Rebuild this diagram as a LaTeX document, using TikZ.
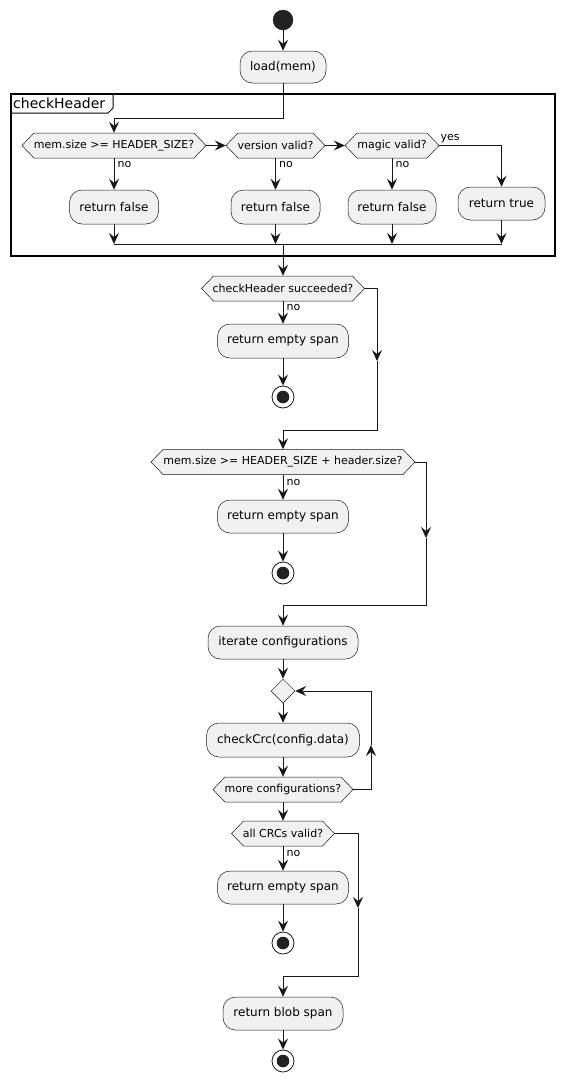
\documentclass[tikz,border=0pt]{standalone}
\usepackage{fontspec}
\setmainfont{DejaVu Sans}
\usetikzlibrary{arrows.meta,shapes.geometric}
\definecolor{ln}{HTML}{181818}
\definecolor{bx}{HTML}{F1F1F1}
\definecolor{dk}{HTML}{222222}
\tikzset{
 act/.style={draw=ln, line width=0.5pt, fill=bx, rounded corners=12.5pt, inner sep=0pt, font=\fontsize{12}{14}\selectfont, text=black},
 hexlbl/.style={inner sep=0pt, font=\fontsize{11}{13}\selectfont, minimum height=25pt},
 hexshape/.style={draw=ln, line width=0.5pt, fill=bx},
 flow/.style={draw=ln, line width=1pt, -{Stealth[length=11pt,width=10pt,inset=4pt]}},
 plain/.style={draw=ln, line width=1pt},
 lbl/.style={font=\fontsize{11}{13}\selectfont, inner sep=0pt, anchor=west},
 startdot/.style={circle, fill=dk, draw=dk, minimum size=20pt, inner sep=0pt},
 stopring/.style={circle, draw=ln, line width=0.8pt, fill=white, minimum size=22pt, inner sep=0pt, path picture={\fill[dk] (path picture bounding box.center) circle (6.3pt);}},
 loopdia/.style={diamond, draw=ln, line width=0.5pt, fill=bx, minimum width=24pt, minimum height=24pt, inner sep=0pt},
}
\newcommand\hexat[5]{%
 \path[hexshape] ({#2-#4},#3) -- ({#2-#4+12},{#3-12.5}) -- ({#2+#4-12},{#3-12.5}) -- ({#2+#4},#3) -- ({#2+#4-12},{#3+12.5}) -- ({#2-#4+12},{#3+12.5}) -- cycle;
 \node[hexlbl, minimum width={2*#4}] (#1) at (#2,#3) {#5};
}
\begin{document}
\begin{tikzpicture}[x=1pt,y=-1pt]
\useasboundingbox (0,0) rectangle (564,1082);
\fill[white] (0,0) rectangle (564,1082);

% frame
\node[draw=black, line width=1.5pt, minimum width=544pt, minimum height=162pt, inner sep=0pt] (frame) at (283,175) {};
\draw[line width=1pt, black] (11,113) -- (108,113) -- (113,108) -- (113,94);
\node[anchor=west, font=\fontsize{14}{16}\selectfont, inner sep=0pt] (ftitle) at (13,103.5) {checkHeader};

% top
\node[startdot] (start) at (283,20) {};
\node[act, minimum width=86pt, minimum height=32pt] (load) at (283,67) {load(mem)};

% checkHeader content
\hexat{d1}{114}{145.5}{92}{mem.size >= HEADER\_SIZE?}
\hexat{d2}{275.5}{145.5}{49.5}{version valid?}
\hexat{d3}{392}{145.5}{47}{magic valid?}
\node[act, minimum width=89pt, minimum height=34pt] (rf1) at (114,207) {return false};
\node[act, minimum width=89pt, minimum height=34pt] (rf2) at (275.5,207) {return false};
\node[act, minimum width=88pt, minimum height=34pt] (rf3) at (392,207) {return false};
\node[act, minimum width=87pt, minimum height=33pt] (rt) at (501.5,203.5) {return true};
\node[lbl] (no1) at (117.5,164) {no};
\node[lbl] (no2) at (279,164) {no};
\node[lbl] (no3) at (395.5,164) {no};
\node[lbl] (yes3) at (440.5,139) {yes};

\coordinate (c1) at (283,118);
\coordinate (c2) at (114,118);
\coordinate (c3) at (501.5,145.5);
\coordinate (m1) at (114,244);
\coordinate (m2) at (275.5,244);
\coordinate (m3) at (392,244);
\coordinate (m4) at (501.5,244);
\coordinate (mx) at (283,244);

\draw[flow] (start) -- (load);
\draw[flow] (load.south) -- (c1) -- (c2) -- (d1.north);
\draw[flow] (d1.east) -- (d2.west);
\draw[flow] (d2.east) -- (d3.west);
\draw[flow] (d3.east) -- (c3) -- (rt.north);
\draw[flow] (d1.south) -- (rf1.north);
\draw[flow] (d2.south) -- (rf2.north);
\draw[flow] (d3.south) -- (rf3.north);
\draw[flow] (rf1.south) -- (m1);
\draw[flow] (rf2.south) -- (m2);
\draw[flow] (rf3.south) -- (m3);
\draw[flow] (rt.south) -- (m4);
\draw[plain] (m1) -- (m4);

% checkHeader succeeded?
\hexat{chk}{283}{288.5}{81.5}{checkHeader succeeded?}
\draw[flow] (mx) -- (chk.north);
\node[lbl] (no4) at (286.5,307) {no};
\node[act, minimum width=131pt, minimum height=34pt] (res1) at (283,341) {return empty span};
\node[stopring] (stop1) at (283,397) {};
\draw[flow] (chk.south) -- (res1.north);
\draw[flow] (res1.south) -- (stop1.north);
\coordinate (b1a) at (377,288.5);
\coordinate (b1m) at (377,361);
\coordinate (b1b) at (377,430);
\coordinate (b1c) at (283,430);
\draw[flow] (chk.east) -- (b1a) -- (b1m);

% size check
\hexat{d4}{283}{462}{132}{mem.size >= HEADER\_SIZE + header.size?}
\draw[flow] (b1m) -- (b1b) -- (b1c) -- (d4.north);
\node[lbl] (no5) at (286.5,482) {no};
\node[act, minimum width=131pt, minimum height=33pt] (res2) at (283,516.5) {return empty span};
\node[stopring] (stop2) at (283,573) {};
\draw[flow] (d4.south) -- (res2.north);
\draw[flow] (res2.south) -- (stop2.north);
\coordinate (b2a) at (426,462);
\coordinate (b2m) at (426,538);
\coordinate (b2b) at (426,605);
\coordinate (b2c) at (283,605);
\draw[flow] (d4.east) -- (b2a) -- (b2m);

% iterate
\node[act, minimum width=150pt, minimum height=33pt] (iter) at (283,642.5) {iterate configurations};
\draw[flow] (b2m) -- (b2b) -- (b2c) -- (iter.north);
\node[loopdia] (loopd) at (283,691) {};
\node[act, minimum width=153pt, minimum height=34pt] (crc) at (283,740) {checkCrc(config.data)};
\hexat{more}{283}{789.5}{70}{more configurations?}
\draw[flow] (iter.south) -- (loopd.north);
\draw[flow] (loopd.south) -- (crc.north);
\draw[flow] (crc.south) -- (more.north);
\coordinate (l1a) at (371,789.5);
\coordinate (l1m) at (371,745);
\coordinate (l1b) at (371,691);
\draw[flow] (more.east) -- (l1a) -- (l1m);
\draw[flow] (l1m) -- (l1b) -- (loopd.east);

% all CRCs valid?
\hexat{allc}{283}{833.5}{51.5}{all CRCs valid?}
\draw[flow] (more.south) -- (allc.north);
\node[lbl] (no6) at (286.5,853) {no};
\node[act, minimum width=131pt, minimum height=33pt] (res3) at (283,887.5) {return empty span};
\node[stopring] (stop3) at (283,943) {};
\draw[flow] (allc.south) -- (res3.north);
\draw[flow] (res3.south) -- (stop3.north);
\coordinate (b3a) at (358,833.5);
\coordinate (b3m) at (358,908);
\coordinate (b3b) at (358,976);
\coordinate (b3c) at (283,976);
\draw[flow] (allc.east) -- (b3a) -- (b3m);
\node[act, minimum width=120pt, minimum height=33pt] (blob) at (283,1013.5) {return blob span};
\draw[flow] (b3m) -- (b3b) -- (b3c) -- (blob.north);
\node[stopring] (stop4) at (283,1061) {};
\draw[flow] (blob.south) -- (stop4.north);
\end{tikzpicture}
\end{document}
